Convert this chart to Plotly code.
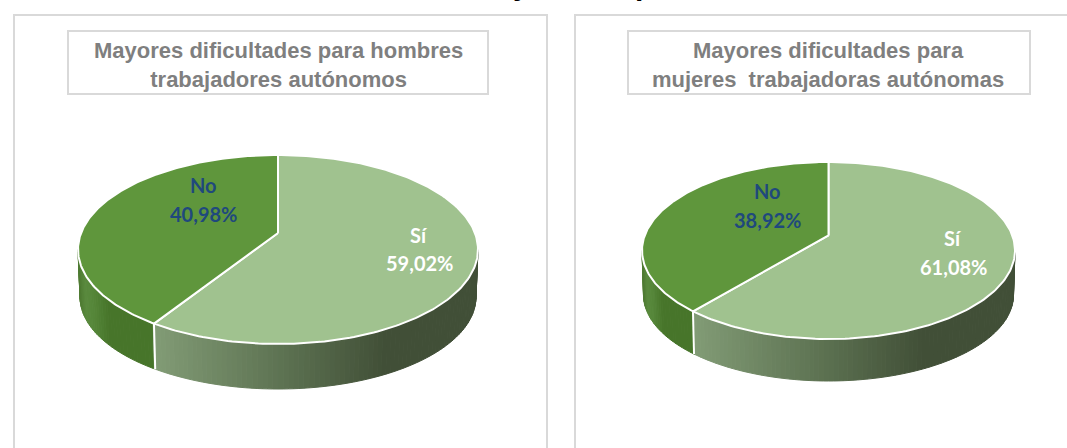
import numpy as np
import plotly.graph_objects as go

categories = ["Sí", "No"]
hombres = [59.02, 40.98]
mujeres = [61.08, 38.92]
value_labels_h = ["59,02%", "40,98%"]
value_labels_m = ["61,08%", "38,92%"]
title_h = "Mayores dificultades para hombres<br>trabajadores autónomos"
title_m = "Mayores dificultades para<br>mujeres  trabajadoras autónomas"

SI_TOP, NO_TOP = "#a0c28f", "#5f963c"
GREY = "#d9d9d9"


def lerp(stops, t):
    xs = [s[0] for s in stops]
    r = np.interp(t, xs, [int(s[1][1:3], 16) for s in stops])
    g = np.interp(t, xs, [int(s[1][3:5], 16) for s in stops])
    b = np.interp(t, xs, [int(s[1][5:7], 16) for s in stops])
    return f"rgb({int(r)},{int(g)},{int(b)})"


SI_SIDE = [(0.0, "#829c76"), (0.42, "#5b7050"), (0.72, "#414f37"), (1.0, "#414f37")]
NO_SIDE = [(0.0, "#4f7b33"), (0.08, "#5a8a3e"), (0.2, "#558639"), (0.4, "#47752a"), (1.0, "#47752a")]

fig = go.Figure()


def project(theta, a):
    # theta clockwise from top; a = perspective shift of the pie centre
    x, y = np.sin(theta), np.cos(theta)
    d = 1 + a * y
    return x * np.sqrt(1 - a * a) / d, (y + a) / d


def pie(values, cx, cy, rx, ry, a, rx2, ry2, cy2):
    split = 2 * np.pi * values[0] / sum(values)
    # side strips along the near half of the rim
    phis = np.linspace(0, np.pi, 121)
    ex, ey = project(split, a)
    phi_split = np.arctan2(-ey, ex) % (2 * np.pi)
    for p0, p1 in zip(phis[:-1], phis[1:]):
        xs = [cx + rx * np.cos(p0), cx + rx * np.cos(p1), cx + rx2 * np.cos(p1), cx + rx2 * np.cos(p0)]
        ys = [cy + ry * np.sin(p0), cy + ry * np.sin(p1), cy2 + ry2 * np.sin(p1), cy2 + ry2 * np.sin(p0)]
        pm = (p0 + p1) / 2
        t = (cx + rx * np.cos(pm) - (cx - rx)) / (2 * rx)
        if pm < phi_split:
            c = lerp(SI_SIDE, (cx + rx * np.cos(pm) - (cx + rx * ex)) / (rx * (1 - ex)))
        else:
            c = lerp(NO_SIDE, t / ((1 + ex) / 2))
        fig.add_trace(go.Scatter(x=xs + xs[:1], y=ys + ys[:1], mode="lines", fill="toself",
                                 fillcolor=c, line=dict(color=c, width=1), hoverinfo="skip"))
    # separator on the side
    fig.add_trace(go.Scatter(x=[cx + rx * ex, cx + rx2 * ex], y=[cy - ry * ey, cy2 - ry2 * ey],
                             mode="lines", line=dict(color="white", width=2), hoverinfo="skip"))
    # top wedges
    acc = 0.0
    for v, col in zip(values, [SI_TOP, NO_TOP]):
        th = np.linspace(acc, acc + 2 * np.pi * v / sum(values), 200)
        acc += 2 * np.pi * v / sum(values)
        px, py = project(th, a)
        xs = np.r_[cx, cx + rx * px, cx]
        ys = np.r_[cy - ry * a, cy - ry * py, cy - ry * a]
        fig.add_trace(go.Scatter(x=xs, y=ys, mode="lines", fill="toself", fillcolor=col,
                                 line=dict(color="white", width=2), hoverinfo="skip"))


pie(hombres, 278, 249.5, 200, 94.5, 0.175, 198, 92, 297)
pie(mujeres, 828.5, 250.5, 186.5, 88.5, 0.17, 185, 86, 295)

shapes = []
for x0, y0, x1, y1 in [(14, 15, 547, 470), (575, 15, 1090, 470), (68, 31, 488, 94), (628, 31, 1030, 94)]:
    shapes.append(dict(type="rect", x0=x0, y0=y0, x1=x1, y1=y1, xref="x", yref="y", layer="below",
                       line=dict(color=GREY, width=2), fillcolor="rgba(0,0,0,0)"))

ann = []


def text(x, y, s, size, color, family="Lato", bold=True, ya="middle"):
    ann.append(dict(x=x, y=y, text=f"<b>{s}</b>" if bold else s, xref="x", yref="y", showarrow=False,
                    xanchor="center", yanchor=ya, align="center",
                    font=dict(size=size, color=color, family=family)))


text(278, 65, title_h, 22, "#7f7f7f", "Liberation Sans")
text(828, 65, title_m, 22, "#7f7f7f", "Liberation Sans")
text(419, 235, categories[0], 20, "white")
text(419, 263, value_labels_h[0], 20, "white")
text(203, 185, categories[1], 20, "#1f497d")
text(203, 214, value_labels_h[1], 20, "#1f497d")
text(953, 238, categories[0], 20, "white")
text(953, 267, value_labels_m[0], 20, "white")
text(767, 191, categories[1], 20, "#1f497d")
text(767, 220, value_labels_m[1], 20, "#1f497d")
# large heading is cut by the top of the picture: only the descenders show
text(521, 3, "y", 30, "black", "Liberation Sans", ya="bottom")
text(644, 3, "p", 30, "black", "Liberation Sans", ya="bottom")

fig.update_layout(width=1067, height=448, margin=dict(l=0, r=0, t=0, b=0), showlegend=False,
                  paper_bgcolor="white", plot_bgcolor="white", shapes=shapes, annotations=ann,
                  xaxis=dict(range=[0, 1067], visible=False, fixedrange=True),
                  yaxis=dict(range=[448, 0], visible=False, fixedrange=True))
fig.write_html("out.html", config={"displayModeBar": False},
               post_script="document.body.style.margin='0';")
